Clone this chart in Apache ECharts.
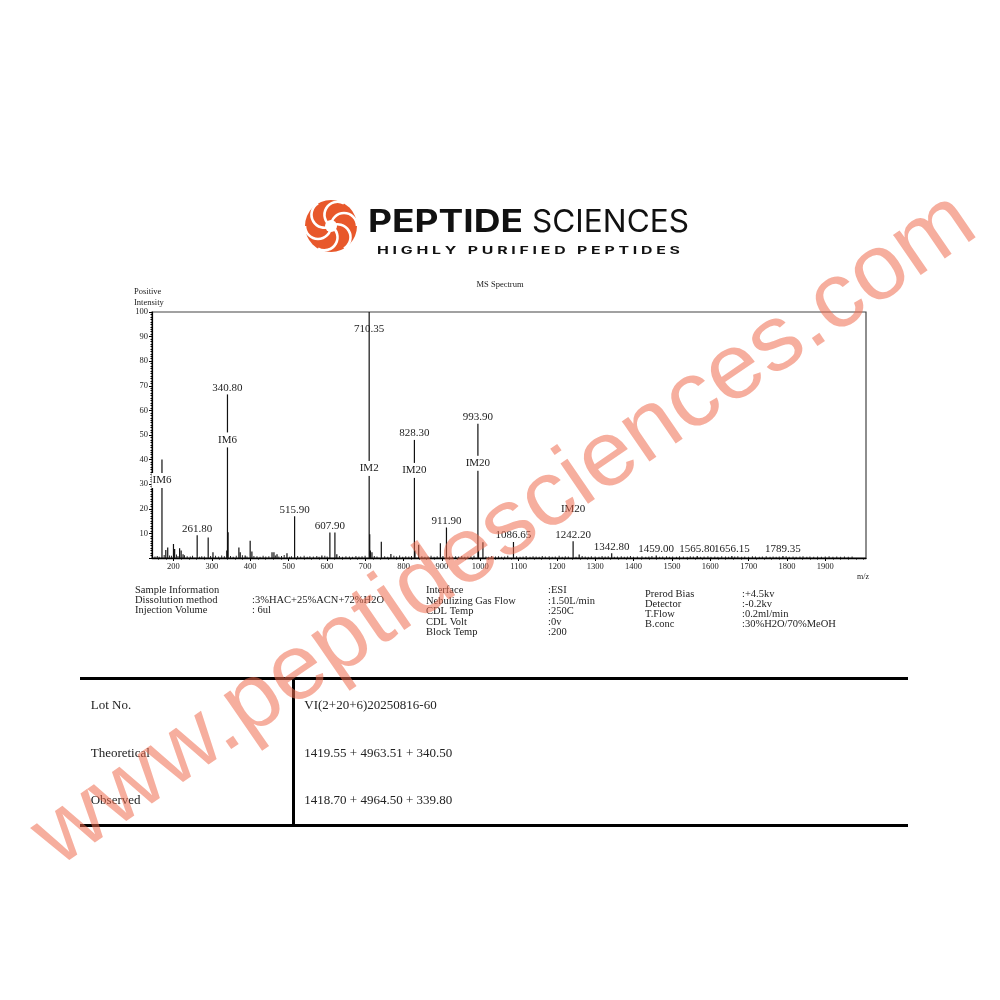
<!DOCTYPE html>
<html>
<head>
<meta charset="utf-8">
<script src="https://cdn.jsdelivr.net/npm/echarts@6/dist/echarts.min.js"></script>
<style>
html,body{margin:0;padding:0;background:#fff;}
#chart{width:1000px;height:1000px;}
</style>
</head>
<body>
<div id="chart"></div>
<script>
// ---------------- DATA ----------------
const xTicks = [200,300,400,500,600,700,800,900,1000,1100,1200,1300,1400,1500,1600,1700,1800,1900];
const xMinorTicks = [160,180,220,240,260,280,320,340,360,380,420,440,460,480,520,540,560,580,620,640,660,680,720,740,760,780,820,840,860,880,920,940,960,980,1020,1040,1060,1080,1120,1140,1160,1180,1220,1240,1260,1280,1320,1340,1360,1380,1420,1440,1460,1480,1520,1540,1560,1580,1620,1640,1660,1680,1720,1740,1760,1780,1820,1840,1860,1880,1920,1940,1960,1980,2000];

// labelled / main peaks: m/z, relative intensity, label
const peakMz    = [170.0, 180, 185, 200, 203, 216, 220, 225, 261.8, 290.5, 303, 339, 340.8, 342.5, 370.6, 374, 387, 400, 404.5, 457, 462, 470, 496, 515.9, 587, 607.9, 621, 626, 710.35, 711.8, 713.5, 717.6, 742, 767, 828.3, 829.8, 839.5, 896, 911.9, 993.9, 995.5, 1007, 1086.65, 1242.2, 1258, 1342.8, 1459.0, 1565.8, 1656.15, 1789.35];
const peakInt   = [40.0, 3.3, 4.3, 5.7, 3.7, 4.0, 3.0, 1.5, 9.2, 8.3, 2.3, 3.0, 66.5, 10.5, 4.3, 2.3, 1.0, 7.0, 2.6, 2.3, 2.3, 1.5, 1.9, 17.0, 1.0, 10.4, 10.4, 1.5, 100, 9.7, 3.0, 2.3, 6.6, 1.6, 48.0, 3.0, 5.4, 6.0, 12.4, 54.6, 3.0, 6.4, 6.5, 6.8, 1.4, 1.9, 1.0, 0.8, 0.8, 0.8];
const peakText  = ['', '', '', '', '', '', '', '', '261.80', '', '', '', '340.80', '', '', '', '', '', '', '', '', '', '', '515.90', '', '607.90', '', '', '710.35', '', '', '', '', '', '828.30', '', '', '', '911.90', '993.90', '', '', '1086.65', '1242.20', '', '1342.80', '1459.00', '1565.80', '1656.15', '1789.35'];

// ion-mode annotations
const imMz   = [170.0, 340.8, 710.35, 828.3, 993.9, 1242.2];
const imPos  = [31.5, 48.0, 36.4, 35.6, 38.5, 19.8];
const imText = ['IM6', 'IM6', 'IM2', 'IM20', 'IM20', 'IM20'];

// baseline noise (m/z, intensity)
const noiseMz  = [152,158,163,176,190,195,208,212,229,236,244,250,268,274,281,297,310,318,326,333,349,356,364,380,392,410,418,426,434,441,449,466,475,482,489,503,508,524,532,541,549,556,565,574,580,595,601,633,641,650,659,667,676,684,692,700,724,731,751,759,775,782,790,798,806,814,821,848,856,864,872,880,888,903,920,928,936,944,952,960,968,976,984,1015,1022,1030,1040,1048,1056,1064,1072,1095,1104,1112,1120,1130,1138,1146,1154,1162,1170,1180,1188,1196,1206,1214,1222,1230,1250,1266,1274,1282,1290,1300,1310,1318,1326,1334,1350,1358,1368,1376,1384,1392,1400,1410,1422,1432,1440,1448,1468,1476,1486,1494,1502,1512,1520,1530,1540,1548,1556,1575,1584,1594,1602,1612,1620,1630,1640,1648,1664,1672,1682,1690,1700,1710,1718,1728,1736,1746,1756,1764,1772,1780,1798,1806,1816,1824,1834,1842,1852,1860,1870,1880,1890,1900,1910,1920,1930,1940,1950,1960,1970,1980,1990];
const noiseInt = [0.6,0.8,0.5,1.2,1.0,0.9,1.4,0.8,1.1,0.7,0.6,0.9,0.5,0.7,0.6,0.8,0.9,0.6,1.0,0.7,0.8,0.5,0.9,1.1,0.6,0.8,0.7,0.5,0.9,0.6,0.7,1.0,0.6,0.8,1.2,0.5,0.7,0.8,0.6,0.9,0.5,0.7,0.6,0.8,0.5,0.9,0.6,0.8,0.5,0.7,0.6,0.5,0.8,0.6,0.7,0.9,0.8,0.6,0.7,0.5,0.9,0.6,1.0,0.5,0.7,0.6,0.8,0.7,0.5,0.6,0.9,0.5,0.7,0.8,0.6,0.5,0.7,0.6,0.8,0.5,0.6,0.7,0.9,0.6,0.5,0.8,0.6,0.7,0.5,0.6,0.9,0.7,0.5,0.6,0.8,0.5,0.7,0.6,0.5,0.8,0.6,0.7,0.5,0.6,0.9,0.5,0.7,0.6,0.5,0.8,0.6,0.5,0.7,0.6,0.5,0.8,0.6,0.7,0.5,0.6,0.7,0.5,0.6,0.8,0.5,0.6,0.7,0.5,0.6,0.8,0.5,0.6,0.7,0.5,0.6,0.5,0.7,0.6,0.5,0.7,0.6,0.5,0.6,0.7,0.5,0.6,0.5,0.7,0.6,0.5,0.6,0.7,0.5,0.6,0.5,0.7,0.6,0.5,0.6,0.7,0.5,0.6,0.5,0.6,0.7,0.5,0.6,0.5,0.6,0.7,0.5,0.6,0.5,0.6,0.5,0.6,0.7,0.5,0.6,0.5,0.6,0.5,0.6];

// info block
const infoLabels1 = ['Sample Information','Dissolution method','Injection Volume'];
const infoValues1 = ['', ':3%HAC+25%ACN+72%H2O', ': 6ul'];
const infoLabels2 = ['Interface','Nebulizing Gas Flow','CDL Temp','CDL Volt','Block Temp'];
const infoValues2 = [':ESI',':1.50L/min',':250C',':0v',':200'];
const infoLabels3 = ['Prerod Bias','Detector','T.Flow','B.conc'];
const infoValues3 = [':+4.5kv',':-0.2kv',':0.2ml/min',':30%H2O/70%MeOH'];

// result table
const tableKeys   = ['Lot No.','Theoretical','Observed'];
const tableValues = ['VI(2+20+6)20250816-60','1419.55 + 4963.51 + 340.50','1418.70 + 4964.50 + 339.80'];

// ---------------- RENDER ----------------
const SERIF = 'Liberation Serif';
const TXT = '#222';
const chart = echarts.init(document.getElementById('chart'), null, {renderer:'canvas'});

const mctx = document.createElement('canvas').getContext('2d');
function fitScale(text, font, target){ mctx.font = font; return target / mctx.measureText(text).width; }

const graphics = [];
function txt(x, y, text, size, opts){
  opts = opts || {};
  graphics.push({
    type:'text', x:x, y:y, z: opts.z || 10, silent:true,
    scaleX: opts.scaleX || 1,
    rotation: opts.rotation || 0,
    style:{text:text, fill: opts.fill || TXT, font: (opts.weight||'normal') + ' ' + size + 'px ' + (opts.family || SERIF),
      textAlign: opts.align || 'left', textVerticalAlign: opts.valign || 'middle'}
  });
}
function line(x1,y1,x2,y2,w,color){
  graphics.push({type:'line', silent:true, z:5, shape:{x1:x1,y1:y1,x2:x2,y2:y2}, style:{stroke:color||'#000', lineWidth:w}});
}

// logo icon
const cx = 331, cy = 226, R = 26;
graphics.push({type:'circle', silent:true, z:5, shape:{cx:cx, cy:cy, r:R}, style:{fill:'#e8582b'}});
for (let k=0;k<6;k++){
  const th = k*Math.PI/3;
  graphics.push({type:'arc', silent:true, z:6,
    shape:{cx:cx+13*Math.cos(th), cy:cy+13*Math.sin(th), r:13, startAngle:th+Math.PI, endAngle:th+2*Math.PI, clockwise:true},
    style:{stroke:'#fff', lineWidth:2.6, fill:null}});
}
graphics.push({type:'circle', silent:true, z:7, shape:{cx:cx, cy:cy, r:6}, style:{fill:'#fff'}});

// logo text
const f1 = 'bold 31px Inter';
txt(368, 223, 'PEPTIDE', 31, {weight:'bold', family:'Inter', fill:'#111', scaleX: fitScale('PEPTIDE', f1, 155)});
const f2 = 'normal 31px Inter';
txt(532, 223, 'SCIENCES', 31, {family:'Inter', fill:'#111', scaleX: fitScale('SCIENCES', f2, 157)});
const tag = 'H I G H L Y   P U R I F I E D   P E P T I D E S';
txt(377, 250.5, tag, 10, {weight:'bold', family:'Inter', fill:'#111', scaleX: fitScale(tag, 'bold 10px Inter', 303)});

// chart titles
txt(500, 284.5, 'MS Spectrum', 8.5, {align:'center'});
txt(134, 292, 'Positive', 8.5);
txt(134, 302.5, 'Intensity', 8.5);
txt(857, 577, 'm/z', 8, {align:'left'});

// info block
infoLabels1.forEach((t,i)=>{ txt(135, 590 + i*10, t, 10.5); if (infoValues1[i]) txt(252, 590 + i*10, infoValues1[i], 10.5); });
infoLabels2.forEach((t,i)=>{ txt(426, 590.7 + i*10.5, t, 10.5); txt(548, 590.7 + i*10.5, infoValues2[i], 10.5); });
infoLabels3.forEach((t,i)=>{ txt(645, 594.3 + i*10, t, 10.5); txt(742, 594.3 + i*10, infoValues3[i], 10.5); });

// table
line(80, 678.5, 908, 678.5, 3);
line(80, 825.5, 908, 825.5, 3);
line(293.5, 677, 293.5, 827, 3);
const rowY = [706, 753.3, 801];
tableKeys.forEach((k,i)=>{ txt(90.7, rowY[i], k, 13); txt(304.3, rowY[i], tableValues[i], 13); });

// watermark
const wm = 'www.peptidesciences.com';
const wmFont = 'normal 92px Liberation Sans';
graphics.push({type:'text', silent:true, z:100, x:505, y:530, rotation: 34.5*Math.PI/180,
  scaleX: fitScale(wm, wmFont, 1120),
  style:{text:wm, font:wmFont, fill:'rgba(238,108,78,0.55)', textAlign:'center', textVerticalAlign:'middle'}});

const axisFont = {fontFamily:SERIF, fontSize:8.5, color:TXT};

const option = {
  animation:false,
  backgroundColor:'#fff',
  grid:{left:152, top:312, width:714, height:246, show:true, borderColor:'#444', borderWidth:1.2, backgroundColor:'transparent'},
  xAxis:[{
    type:'value', min:144, max:2006, splitLine:{show:false},
    axisLine:{show:true, onZero:false, lineStyle:{color:'#000', width:1.3}},
    axisTick:{show:true, customValues:xTicks, length:3, lineStyle:{color:'#000'}},
    axisLabel:Object.assign({customValues:xTicks, margin:4, formatter:v=>String(v)}, axisFont)
  },{
    type:'value', min:144, max:2006, position:'bottom', gridIndex:0, splitLine:{show:false},
    axisLine:{show:false}, axisLabel:{show:false},
    axisTick:{show:true, customValues:xMinorTicks, length:1.5, lineStyle:{color:'#000'}}
  }],
  yAxis:{
    type:'value', min:0, max:100, interval:10, splitLine:{show:false},
    axisLine:{show:true, lineStyle:{color:'#000', width:1.2}},
    axisTick:{show:true, length:3, lineStyle:{color:'#000'}},
    minorTick:{show:true, splitNumber:10, length:1.5, lineStyle:{color:'#000'}},
    axisLabel:Object.assign({margin:4, formatter:v=> v===0 ? '' : String(v)}, axisFont)
  },
  series:[
    {
      type:'bar', xAxisIndex:0, barWidth:1, barGap:'-100%', silent:true, z:3,
      itemStyle:{color:'#222'},
      data: noiseMz.map((m,i)=>[m, noiseInt[i]])
    },
    {
      type:'bar', xAxisIndex:0, barWidth:1.2, barGap:'-100%', silent:true, z:4,
      itemStyle:{color:'#111'},
      label:{show:false, fontFamily:SERIF, fontSize:11, color:TXT},
      data: peakMz.map((m,i)=>{
        const top = peakInt[i] > 95;
        return {value:[m, peakInt[i]], label:{show: peakText[i] !== '', formatter: peakText[i],
          position: top ? 'insideTop' : 'top', distance: top ? 12 : 1}};
      })
    },
    {
      type:'scatter', xAxisIndex:0, symbolSize:1, silent:true, z:6,
      itemStyle:{color:'#fff'},
      label:{show:true, position:'inside', fontFamily:SERIF, fontSize:11, color:'#1a1a1a', opacity:1,
        textBorderWidth:0, textBorderColor:'transparent', backgroundColor:'#fff', padding:[2,1]},
      data: imMz.map((m,i)=>({value:[m, imPos[i]], label:{show:true, formatter: imText[i]}}))
    }
  ],
  graphic: graphics
};
chart.setOption(option);
</script>
</body>
</html>
